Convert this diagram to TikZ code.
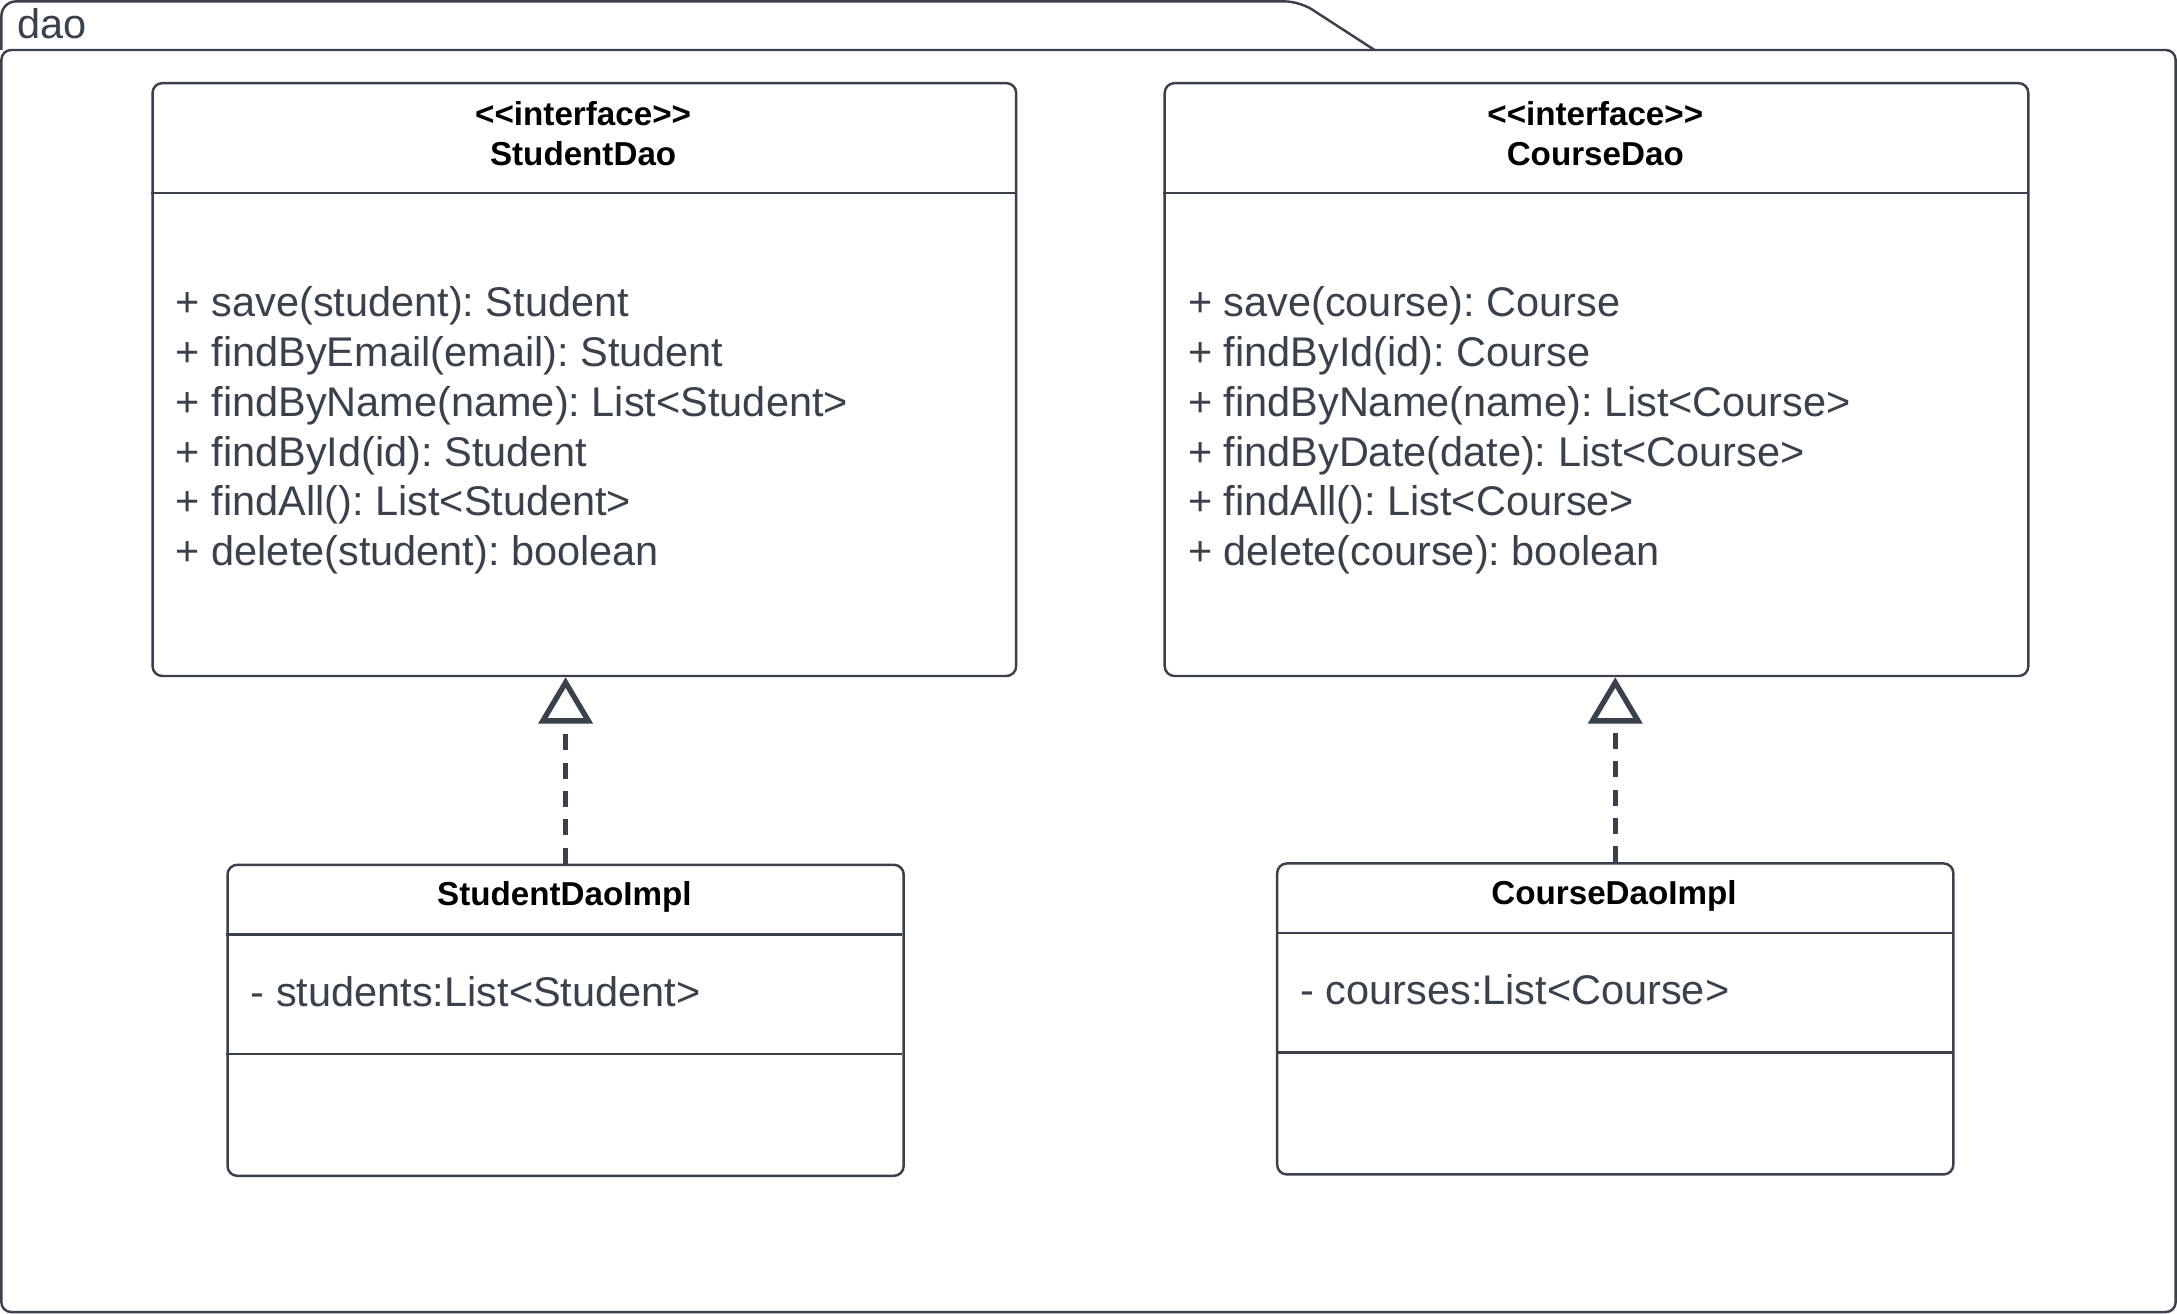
\documentclass[tikz,border=0pt]{standalone}
\usepackage{fontspec}
\setmainfont{Liberation Sans}[Ligatures=TeXOff]
\usetikzlibrary{arrows.meta}
\definecolor{linegray}{HTML}{3A414A}
\frenchspacing

\begin{document}
\begin{tikzpicture}
    \tikzstyle{cls} = [rectangle, draw=linegray, line width=0.5pt,
        rounded corners=2pt, inner sep=0pt]
    \tikzstyle{title} = [font=\fontsize{6.8}{8.2}\selectfont\bfseries,
        align=center, text=black, inner sep=0pt]
    \tikzstyle{members} = [font=\fontsize{8.5}{10.2}\selectfont, align=left,
        text=linegray, inner sep=0pt]
    \tikzstyle{realize} = [-{Triangle[open, length=9.5pt, width=11pt]},
        dash pattern=on 3.3pt off 2.5pt, line width=1.1pt, draw=linegray]
    \tikzstyle{sep} = [draw=linegray, line width=0.5pt]

    \useasboundingbox (0,0) rectangle (15.68,-9.46);

    % package
    \draw[sep, rounded corners=2pt] (0.01,-0.36) rectangle (15.67,-9.45);
    \draw[sep, rounded corners=3pt] (0.01,-0.36) -- (0.01,-0.01) --
        (9.36,-0.01) -- (9.90,-0.36);
    \node(dao) [members] at (0.12,-0.17) [anchor=west] {dao};

    % interfaces
    \node(studentdao) [cls, minimum width=6.22cm, minimum height=4.27cm]
        at (1.09,-0.59) [anchor=north west] {};
    \node(studentdaotitle) [title] at (4.20,-0.965)
        {<<interface>>\\ StudentDao};
    \node(studentdaoops) [members] at (1.26,-3.10) [anchor=west]
        {+ save(student): Student\\ + findByEmail(email): Student\\
        + findByName(name): List<Student>\\ + findById(id): Student\\
        + findAll(): List<Student>\\ + delete(student): boolean};

    \node(coursedao) [cls, minimum width=6.22cm, minimum height=4.27cm]
        at (8.38,-0.59) [anchor=north west] {};
    \node(coursedaotitle) [title] at (11.49,-0.965)
        {<<interface>>\\ CourseDao};
    \node(coursedaoops) [members] at (8.55,-3.10) [anchor=west]
        {+ save(course): Course\\ + findById(id): Course\\
        + findByName(name): List<Course>\\ + findByDate(date): List<Course>\\
        + findAll(): List<Course>\\ + delete(course): boolean};

    % implementations
    \node(studentimpl) [cls, minimum width=4.87cm, minimum height=2.24cm]
        at (1.63,-6.22) [anchor=north west] {};
    \node(studentimpltitle) [title] at (4.065,-6.46) {StudentDaoImpl};
    \node(studentimplattr) [members] at (1.80,-7.14) [anchor=west]
        {- students:List<Student>};

    \node(courseimpl) [cls, minimum width=4.87cm, minimum height=2.24cm]
        at (9.19,-6.21) [anchor=north west] {};
    \node(courseimpltitle) [title] at (11.625,-6.45) {CourseDaoImpl};
    \node(courseimplattr) [members] at (9.36,-7.13) [anchor=west]
        {- courses:List<Course>};

    \draw[sep] (1.09,-1.39) -- (7.31,-1.39);
    \draw[sep] (8.38,-1.39) -- (14.60,-1.39);
    \draw[sep] (1.63,-6.73) -- (6.50,-6.73);
    \draw[sep] (1.63,-7.59) -- (6.50,-7.59);
    \draw[sep] (9.19,-6.72) -- (14.06,-6.72);
    \draw[sep] (9.19,-7.58) -- (14.06,-7.58);

    \draw[realize] (studentimpl.north) -- (studentimpl.north |- studentdao.south);
    \draw[realize] (courseimpl.north) -- (courseimpl.north |- coursedao.south);
\end{tikzpicture}
\end{document}
